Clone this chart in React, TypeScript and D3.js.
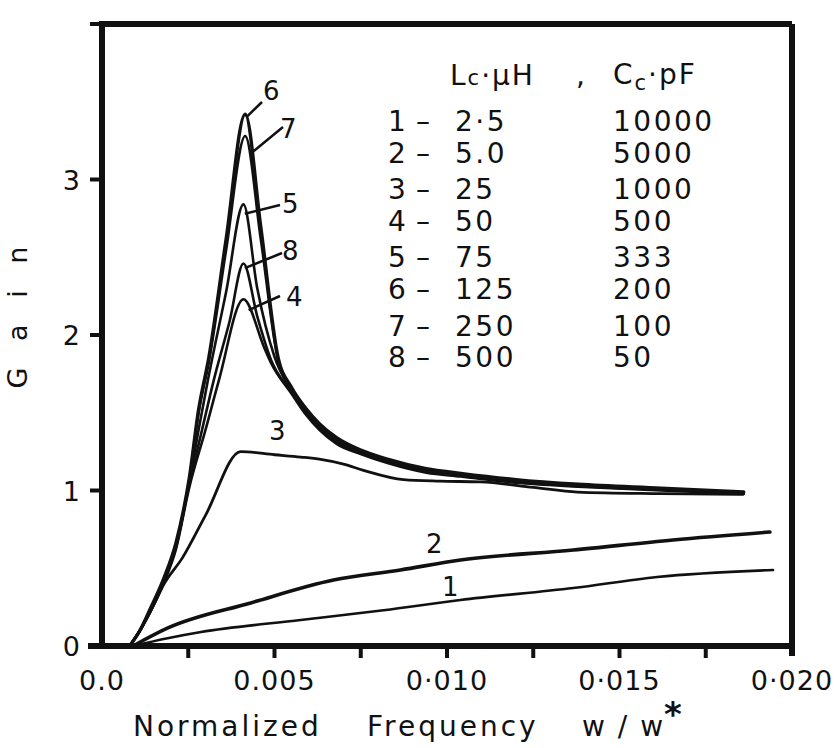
import React from 'react';
import * as d3 from 'd3';

const W = 837;
const H = 748;

// axis ticks
const xTickValues = [0, 0.0025, 0.005, 0.0075, 0.01, 0.0125, 0.015, 0.0175, 0.02];
const xTickLabels = ['0.0', '', '0.005', '', '0·010', '', '0·015', '', '0·020'];
const yTickValues = [0, 1, 2, 3, 4];
const yTickLabels = ['0', '1', '2', '3', ''];

// series (x = normalized frequency, y = gain)
const c1X = [0.0009, 0.0019, 0.00287, 0.00576, 0.00816, 0.01039, 0.01366, 0.01609, 0.01945];
const c1Y = [0, 0.05, 0.09, 0.167, 0.23, 0.296, 0.373, 0.444, 0.489];

const c2X = [0.0009, 0.00191, 0.00431, 0.00671, 0.00865, 0.01039, 0.01366, 0.01655, 0.01936];
const c2Y = [0, 0.116, 0.277, 0.424, 0.489, 0.553, 0.617, 0.682, 0.733];

const c3X = [0.0008, 0.0011, 0.0014, 0.0018, 0.00234, 0.003, 0.00402, 0.005, 0.00576, 0.00634, 0.007, 0.00758, 0.00874, 0.0098, 0.01097, 0.0125, 0.01378, 0.01618, 0.01858];
const c3Y = [0, 0.1, 0.22, 0.4, 0.57, 0.84, 1.25, 1.23, 1.215, 1.2, 1.17, 1.13, 1.07, 1.06, 1.055, 1.02, 0.99, 0.98, 0.975];

const c4X = [0.0008, 0.0011, 0.0014, 0.0018, 0.00214, 0.00253, 0.003, 0.00339, 0.0041, 0.0047, 0.0049, 0.0055, 0.0059, 0.0063, 0.0068, 0.0075, 0.0083, 0.0094, 0.0104, 0.012, 0.0138, 0.0162, 0.0186];
const c4Y = [0, 0.1, 0.22, 0.41, 0.62, 1.02, 1.39, 1.71, 2.23, 1.92, 1.82, 1.62, 1.49, 1.39, 1.3, 1.235, 1.175, 1.115, 1.09, 1.05, 1.025, 1.0, 0.98];

const c5X = [0.0008, 0.0011, 0.0014, 0.0018, 0.00214, 0.00253, 0.0028, 0.00307, 0.0036, 0.0041, 0.0045, 0.005, 0.0055, 0.0059, 0.0063, 0.0068, 0.0075, 0.0083, 0.0094, 0.0104, 0.012, 0.0138, 0.0162, 0.0186];
const c5Y = [0, 0.1, 0.23, 0.42, 0.64, 1.06, 1.39, 1.71, 2.28, 2.84, 2.3, 1.86, 1.64, 1.51, 1.41, 1.32, 1.245, 1.185, 1.125, 1.1, 1.06, 1.03, 1.005, 0.985];

const c6X = [0.0008, 0.0011, 0.0014, 0.0018, 0.00214, 0.00253, 0.0028, 0.0031, 0.0036, 0.00415, 0.0046, 0.0051, 0.0055, 0.0059, 0.0063, 0.0068, 0.0075, 0.0083, 0.0094, 0.0104, 0.012, 0.0138, 0.0162, 0.0186];
const c6Y = [0, 0.1, 0.24, 0.44, 0.66, 1.08, 1.52, 1.86, 2.62, 3.42, 2.7, 1.86, 1.66, 1.53, 1.43, 1.34, 1.26, 1.2, 1.14, 1.11, 1.07, 1.04, 1.015, 0.99];

const c7X = [0.0008, 0.0011, 0.0014, 0.0018, 0.00214, 0.00253, 0.0028, 0.0031, 0.0036, 0.00415, 0.0046, 0.0051, 0.0055, 0.0059, 0.0063, 0.0068, 0.0075, 0.0083, 0.0094, 0.0104, 0.012, 0.0138, 0.0162, 0.0186];
const c7Y = [0, 0.1, 0.23, 0.43, 0.65, 1.07, 1.5, 1.83, 2.55, 3.28, 2.62, 1.84, 1.65, 1.52, 1.42, 1.33, 1.25, 1.19, 1.13, 1.1, 1.065, 1.035, 1.01, 0.985];

const c8X = [0.0008, 0.0011, 0.0014, 0.0018, 0.00214, 0.00253, 0.0029, 0.00324, 0.0037, 0.0041, 0.0045, 0.0049, 0.0055, 0.0059, 0.0063, 0.0068, 0.0075, 0.0083, 0.0094, 0.0104, 0.012, 0.0138, 0.0162, 0.0186];
const c8Y = [0, 0.1, 0.22, 0.42, 0.63, 1.04, 1.39, 1.71, 2.09, 2.46, 2.12, 1.84, 1.63, 1.5, 1.4, 1.31, 1.24, 1.18, 1.12, 1.095, 1.055, 1.03, 1.005, 0.98];

// legend
const legendIds = ['1', '2', '3', '4', '5', '6', '7', '8'];
const legendL = ['2·5', '5.0', '25', '50', '75', '125', '250', '500'];
const legendC = ['10000', '5000', '1000', '500', '333', '200', '100', '50'];

const FONT = '"DejaVu Sans", Verdana, sans-serif';

export default function App() {
  const x = d3.scaleLinear().domain([0, 0.02]).range([102, 792]);
  const y = d3.scaleLinear().domain([0, 4]).range([646, 24]);

  const line = d3
    .line<[number, number]>()
    .x((d) => x(d[0]))
    .y((d) => y(d[1]))
    .curve(d3.curveMonotoneX);

  const series = [
    { id: '1', xs: c1X, ys: c1Y, w: 2.6 },
    { id: '2', xs: c2X, ys: c2Y, w: 3.6 },
    { id: '3', xs: c3X, ys: c3Y, w: 2.8 },
    { id: '4', xs: c4X, ys: c4Y, w: 2.6 },
    { id: '8', xs: c8X, ys: c8Y, w: 2.6 },
    { id: '5', xs: c5X, ys: c5Y, w: 2.6 },
    { id: '7', xs: c7X, ys: c7Y, w: 2.6 },
    { id: '6', xs: c6X, ys: c6Y, w: 3.4 },
  ];

  const labels = [
    { t: '6', ax: 0.00418, ay: 3.4, lx: 262, ly: 102, tx: 263, ty: 100 },
    { t: '7', ax: 0.00438, ay: 3.18, lx: 283, ly: 127, tx: 280, ty: 138 },
    { t: '5', ax: 0.00414, ay: 2.78, lx: 280, ly: 205, tx: 282, ty: 213 },
    { t: '8', ax: 0.00414, ay: 2.43, lx: 282, ly: 253, tx: 282, ty: 260 },
    { t: '4', ax: 0.00425, ay: 2.16, lx: 280, ly: 296, tx: 286, ty: 306 },
  ];

  return (
    <div style={{ position: 'absolute', left: 0, top: 0 }}>
      <svg width={W} height={H} style={{ display: 'block', background: '#fff' }}>
        <rect x={0} y={0} width={W} height={H} fill="#fff" />
        {series.map((s) => (
          <path
            key={s.id}
            d={line(s.xs.map((v, i) => [v, s.ys[i]] as [number, number])) || ''}
            fill="none"
            stroke="#111"
            strokeWidth={s.w}
            strokeLinejoin="round"
            strokeLinecap="round"
          />
        ))}

        {/* frame */}
        <line x1={x(0)} y1={y(4)} x2={x(0.02)} y2={y(4)} stroke="#111" strokeWidth={6} />
        <line x1={x(0.02)} y1={y(4)} x2={x(0.02)} y2={y(0) + 10} stroke="#111" strokeWidth={6} />
        <line x1={x(0)} y1={y(4) - 3} x2={x(0)} y2={y(0) + 3} stroke="#111" strokeWidth={6} />
        <line x1={x(0) - 14} y1={y(0)} x2={x(0.02)} y2={y(0)} stroke="#111" strokeWidth={6} />

        {/* x ticks */}
        {xTickValues.map((v, i) => (
          <g key={'xt' + i}>
            {i > 0 && i < xTickValues.length - 1 && (
              <line x1={x(v)} y1={y(0)} x2={x(v)} y2={y(0) + 12} stroke="#111" strokeWidth={4} />
            )}
            {xTickLabels[i] && (
              <text x={x(v)} y={690} textAnchor="middle" fontFamily={FONT} fontSize={27} letterSpacing={1} fill="#111">
                {xTickLabels[i]}
              </text>
            )}
          </g>
        ))}

        {/* y ticks */}
        {yTickValues.map((v, i) => (
          <g key={'yt' + i}>
            <line x1={x(0) - 12} y1={y(v)} x2={x(0)} y2={y(v)} stroke="#111" strokeWidth={4} />
            {yTickLabels[i] && (
              <text x={80} y={y(v) + 10} textAnchor="end" fontFamily={FONT} fontSize={27} fill="#111">
                {yTickLabels[i]}
              </text>
            )}
          </g>
        ))}

        {/* axis titles */}
        <text x={133} y={736} fontFamily={FONT} fontSize={28} letterSpacing={3} fill="#111">Normalized</text>
        <text x={367} y={736} fontFamily={FONT} fontSize={28} letterSpacing={3} fill="#111">Frequency</text>
        <text x={582} y={736} fontFamily={FONT} fontSize={28} letterSpacing={2} fill="#111">w / w</text>
        <text x={664} y={726} fontFamily={FONT} fontSize={34} fontWeight="bold" fill="#111">*</text>
        <text transform="translate(27,313) rotate(-90)" textAnchor="middle" fontFamily={FONT} fontSize={27} letterSpacing={9} fill="#111">
          G a i n
        </text>

        {/* curve labels */}
        {labels.map((l) => (
          <g key={'lb' + l.t}>
            <line x1={x(l.ax)} y1={y(l.ay)} x2={l.lx} y2={l.ly} stroke="#111" strokeWidth={2.5} />
            <text x={l.tx} y={l.ty} fontFamily={FONT} fontSize={26} fill="#111">{l.t}</text>
          </g>
        ))}
        <text x={269} y={440} fontFamily={FONT} fontSize={26} fill="#111">3</text>
        <text x={426} y={553} fontFamily={FONT} fontSize={26} fill="#111">2</text>
        <text x={442} y={596} fontFamily={FONT} fontSize={26} fill="#111">1</text>

        {/* legend */}
        <text x={450} y={85} fontFamily={FONT} fontSize={28} letterSpacing={2} fill="#111">
          L<tspan fontSize={21}>c</tspan>·μH
        </text>
        <text x={576} y={85} fontFamily={FONT} fontSize={28} fill="#111">,</text>
        <text x={613} y={84} fontFamily={FONT} fontSize={28} letterSpacing={2} fill="#111">
          C<tspan fontSize={21} dy={6}>c</tspan>
          <tspan dy={-6}>·pF</tspan>
        </text>
        {legendIds.map((id, i) => {
          const by = [131, 163, 199, 231, 267, 299, 336, 367][i];
          return (
            <g key={'lg' + id}>
              <text x={388} y={by} fontFamily={FONT} fontSize={28} fill="#111">{id}</text>
              <text x={416} y={by} fontFamily={FONT} fontSize={28} fill="#111">–</text>
              <text x={455} y={by} fontFamily={FONT} fontSize={28} letterSpacing={2.5} fill="#111">{legendL[i]}</text>
              <text x={613} y={by} fontFamily={FONT} fontSize={28} letterSpacing={2.5} fill="#111">{legendC[i]}</text>
            </g>
          );
        })}
      </svg>
    </div>
  );
}
